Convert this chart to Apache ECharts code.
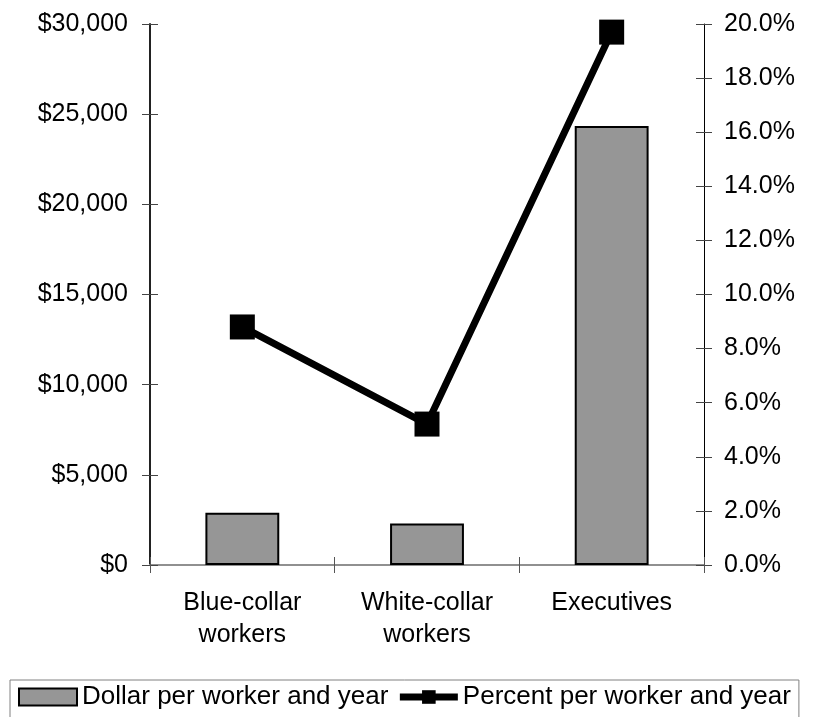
<!DOCTYPE html>
<html>
<head>
<meta charset="utf-8">
<script src="https://cdn.jsdelivr.net/npm/echarts@6/dist/echarts.min.js"></script>
<style>
  html, body { margin: 0; padding: 0; background: #fff; }
  #char { width: 822px; height: 717px; }
</style>
</head>
<body>
<div id="char"></div>
<script>
// data
var categories = ["Blue-collar\nworkers", "White-collar\nworkers", "Executives"];
var dollarValues = [2900, 2300, 24350];
var percentValues = [8.8, 5.21, 19.7];
var dollarName = "Dollar per worker and year";
var percentName = "Percent per worker and year";

var font = "Liberation Sans, Arial, sans-serif";

var myChart = echarts.init(document.getElementById("char"));

var option = {
  animation: false,
  backgroundColor: "#fff",
  textStyle: { fontFamily: font },
  legend: {
    left: 10,
    top: 680,
    padding: [4, 8, 8, 8],
    itemGap: 8,
    itemWidth: 58,
    itemHeight: 17,
    borderColor: "#808080",
    borderWidth: 1,
    lineStyle: { width: 7 },
    textStyle: { fontFamily: font, fontSize: 26, color: "#000" },
    data: [
      { name: dollarName, icon: "rect" },
      { name: percentName }
    ]
  },
  grid: {
    // plot box
    left: 150,
    right: 118,
    top: 24,
    bottom: 152,
    containLabel: false
  },
  xAxis: [
    {
      type: "category",
      data: categories,
      boundaryGap: true,
      axisLine: { show: true, lineStyle: { color: "#808080", width: 2 } },
      axisTick: { show: true, alignWithLabel: false, length: 8, lineStyle: { color: "#555", width: 1 } },
      axisLabel: { color: "#000", fontSize: 25, lineHeight: 32, margin: 22, fontFamily: font, interval: 0 },
      splitLine: { show: false }
    },
    {
      // inner half of the crossing ticks
      type: "category",
      data: categories,
      position: "bottom",
      boundaryGap: true,
      axisLine: { show: false },
      axisTick: { show: true, inside: true, length: 8, lineStyle: { color: "#555", width: 1 } },
      axisLabel: { show: false }
    },
    {
      // top frame line
      type: "category",
      data: categories,
      position: "top",
      axisLine: { show: true, lineStyle: { color: "#909090", width: 2 } },
      axisTick: { show: false },
      axisLabel: { show: false }
    }
  ],
  yAxis: [
    {
      type: "value",
      min: 0,
      max: 30000,
      interval: 5000,
      position: "left",
      axisLine: { show: true, lineStyle: { color: "#222", width: 2 } },
      axisTick: { show: true, length: 8, lineStyle: { color: "#444", width: 1 } },
      axisLabel: {
        color: "#000",
        fontSize: 25,
        margin: 22,
        fontFamily: font,
        formatter: function (v) { return "$" + v.toLocaleString("en-US"); }
      },
      splitLine: { show: false }
    },
    {
      type: "value",
      min: 0,
      max: 20,
      interval: 2,
      position: "right",
      axisLine: { show: true, lineStyle: { color: "#000", width: 1 } },
      axisTick: { show: true, length: 8, lineStyle: { color: "#444", width: 1 } },
      axisLabel: {
        color: "#000",
        fontSize: 25,
        margin: 20,
        fontFamily: font,
        formatter: function (v) { return v.toFixed(1) + "%"; }
      },
      splitLine: { show: false }
    },
    {
      type: "value",
      min: 0,
      max: 30000,
      interval: 5000,
      position: "left",
      axisLine: { show: false },
      axisTick: { show: true, inside: true, length: 8, lineStyle: { color: "#444", width: 1 } },
      axisLabel: { show: false },
      splitLine: { show: false }
    },
    {
      type: "value",
      min: 0,
      max: 20,
      interval: 2,
      position: "right",
      axisLine: { show: false },
      axisTick: { show: true, inside: true, length: 8, lineStyle: { color: "#444", width: 1 } },
      axisLabel: { show: false },
      splitLine: { show: false }
    }
  ],
  series: [
    {
      name: dollarName,
      type: "bar",
      xAxisIndex: 0,
      yAxisIndex: 0,
      barWidth: "40%",
      itemStyle: { color: "#969696", borderColor: "#000", borderWidth: 2 },
      data: dollarValues,
      z: 2
    },
    {
      name: percentName,
      type: "line",
      xAxisIndex: 0,
      yAxisIndex: 1,
      symbol: "rect",
      symbolSize: 25,
      lineStyle: { color: "#000", width: 7 },
      itemStyle: { color: "#000" },
      data: percentValues,
      z: 5
    }
  ]
};

myChart.setOption(option);
</script>
</body>
</html>
